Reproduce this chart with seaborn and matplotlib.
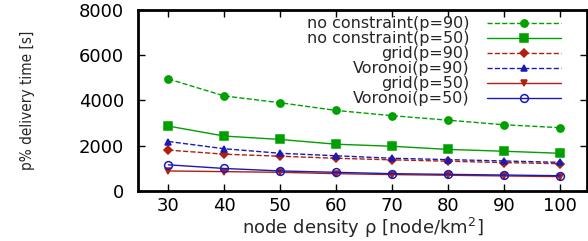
import pandas as pd
import matplotlib
matplotlib.use("Agg")
import matplotlib.pyplot as plt
import seaborn as sns

# Data
density = [30, 40, 50, 60, 70, 80, 90, 100]
nocon_p90 = [4950, 4200, 3900, 3560, 3330, 3130, 2930, 2800]
nocon_p50 = [2870, 2430, 2280, 2070, 1980, 1840, 1760, 1670]
grid_p90 = [1810, 1630, 1540, 1450, 1380, 1320, 1260, 1210]
voronoi_p90 = [2190, 1870, 1670, 1560, 1450, 1390, 1330, 1270]
grid_p50 = [890, 860, 830, 770, 730, 700, 670, 640]
voronoi_p50 = [1160, 1000, 890, 830, 770, 740, 710, 680]

series_names = ['no constraint(p=90)', 'no constraint(p=50)', 'grid(p=90)',
                'Voronoi(p=90)', 'grid(p=50)', 'Voronoi(p=50)']
series_values = [nocon_p90, nocon_p50, grid_p90, voronoi_p90, grid_p50, voronoi_p50]

df = pd.concat([pd.DataFrame({'density': density, 'time': v, 'series': n})
                for n, v in zip(series_names, series_values)], ignore_index=True)

# Styles
green = '#00a000'
red = '#b02010'
blue = '#1a1ab8'
styles = {
    'no constraint(p=90)': dict(color=green, ls='--', marker='o', ms=5.2, mfc=green),
    'no constraint(p=50)': dict(color=green, ls='-', marker='s', ms=5.8, mfc=green),
    'grid(p=90)': dict(color=red, ls='--', marker='D', ms=3.6, mfc=red),
    'Voronoi(p=90)': dict(color=blue, ls='--', marker='^', ms=5, mfc=blue),
    'grid(p=50)': dict(color=red, ls='-', marker='v', ms=5, mfc=red),
    'Voronoi(p=50)': dict(color=blue, ls='-', marker='o', ms=5.6, mfc='none'),
}

sns.set_theme(style="ticks")
plt.rcParams['font.family'] = ['DejaVu Sans']

fig = plt.figure(figsize=(5.88, 2.41), dpi=100)
ax = fig.add_axes([0.235, 0.207, 0.763, 0.752])

for name in series_names:
    st = styles[name]
    sub = df[df['series'] == name]
    sns.lineplot(data=sub, x='density', y='time', ax=ax, label=name,
                 color=st['color'], linestyle=st['ls'], linewidth=1,
                 marker=st['marker'], markersize=st['ms'],
                 markerfacecolor=st['mfc'], markeredgecolor=st['color'],
                 markeredgewidth=1.1)

ax.set_xlim(24.6, 104.8)
ax.set_ylim(0, 8000)
ax.set_xticks(density)
ax.set_yticks([0, 2000, 4000, 6000, 8000])
ax.tick_params(direction='in', length=5, width=1, labelsize=13,
               top=True, right=True, colors='black')
ax.tick_params(axis='y', pad=10)
ax.tick_params(axis='x', pad=4)
for sp in ax.spines.values():
    sp.set_linewidth(2)
    sp.set_color('black')

ax.set_xlabel('node density ρ [node/km$^2$]', fontsize=13, labelpad=1)
ax.set_ylabel('p% delivery time [s]', fontsize=11, labelpad=32,
              fontstretch='condensed')

leg = ax.legend(loc='upper right', bbox_to_anchor=(0.942, 0.965),
                frameon=False, markerfirst=False,
                fontsize=11.5, handlelength=4.6, handletextpad=1.1,
                labelspacing=0.0, borderaxespad=0.0, borderpad=0.0)

fig.savefig('out.png', dpi=100)
